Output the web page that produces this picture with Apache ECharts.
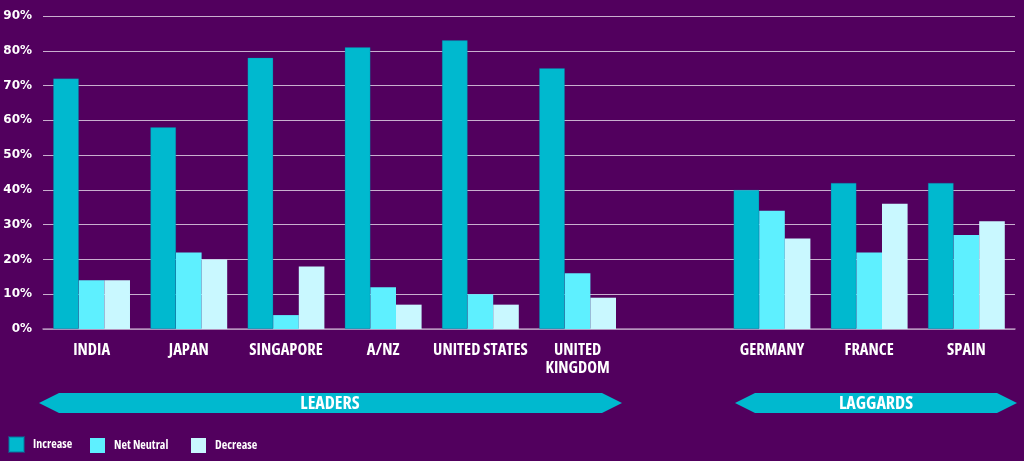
<!DOCTYPE html>
<html><head><meta charset="utf-8">
<script src="https://cdn.jsdelivr.net/npm/echarts@6/dist/echarts.min.js"></script>
<style>html,body{margin:0;padding:0;background:#52005E;}#c{width:1024px;height:461px;}</style>
</head><body><div id="c"></div>
<script>
const categories = ['INDIA','JAPAN','SINGAPORE','A/NZ','UNITED STATES','UNITED\nKINGDOM','','GERMANY','FRANCE','SPAIN'];
const increase   = [72,58,78,81,83,75,null,40,42,42];
const netNeutral = [14,22,4,12,10,16,null,34,22,27];
const decrease   = [14,20,18,7,7,9,null,26,36,31];
const seriesNames = ['Increase','Net Neutral','Decrease'];
const groupLabels = ['LEADERS','LAGGARDS'];

const fam = "'Open Sans',sans-serif";
const chart = echarts.init(document.getElementById('c'));
const colors = ['#00B9CF','#5EF0FF','#C9F8FF'];
function arrow(x1,x2,yc,h,tip,text,tx){
  return [{type:'polygon',shape:{points:[[x1,yc],[x1+tip,yc-h/2],[x2-tip,yc-h/2],[x2,yc],[x2-tip,yc+h/2],[x1+tip,yc+h/2]]},style:{fill:'#00B9CF'}},
  {type:'text',x:tx,y:yc+0.5,style:{text:text,fill:'#fff',font:"bold semi-condensed 18px "+fam,textAlign:'center',textVerticalAlign:'middle'}}];
}
const legendBase = {bottom:8,padding:0,itemWidth:15,itemHeight:15,icon:'rect',
  textStyle:{color:'#fff',fontWeight:'bold semi-condensed',fontSize:12,fontFamily:fam,padding:[0,0,0,4]}};
chart.setOption({
  backgroundColor:'#52005E',
  color:colors,
  animation:false,
  grid:{left:43,right:9,top:16,bottom:132},
  legend:[Object.assign({left:8,data:[seriesNames[0]]},legendBase),
          Object.assign({left:90,data:[seriesNames[1]]},legendBase),
          Object.assign({left:191,data:[seriesNames[2]]},legendBase)],
  xAxis:{type:'category',data:categories,
    axisLine:{lineStyle:{color:'#B08AB8',width:1.5}},axisTick:{show:false},
    axisLabel:{color:'#fff',fontWeight:'bold semi-condensed',fontSize:16.5,fontFamily:fam,margin:12,lineHeight:18,interval:0,verticalAlign:'top'}},
  yAxis:{type:'value',min:0,max:90,interval:10,
    axisLabel:{formatter:'{value}%',color:'#fff',fontWeight:'bold',fontSize:12,fontFamily:"'DejaVu Sans',sans-serif",margin:11},
    splitLine:{lineStyle:{color:'#C9AFCF',width:1}},axisLine:{show:false},axisTick:{show:false}},
  series:[
    {name:seriesNames[0],type:'bar',data:increase,barGap:'0%',barCategoryGap:'21%',itemStyle:{borderColor:'rgba(0,120,160,0.5)',borderWidth:0.5}},
    {name:seriesNames[1],type:'bar',data:netNeutral},
    {name:seriesNames[2],type:'bar',data:decrease}
  ],
  graphic:[].concat(arrow(39,622,403,20,20,groupLabels[0],330),arrow(735,1017,403,20,20,groupLabels[1],876))
});
</script></body></html>
